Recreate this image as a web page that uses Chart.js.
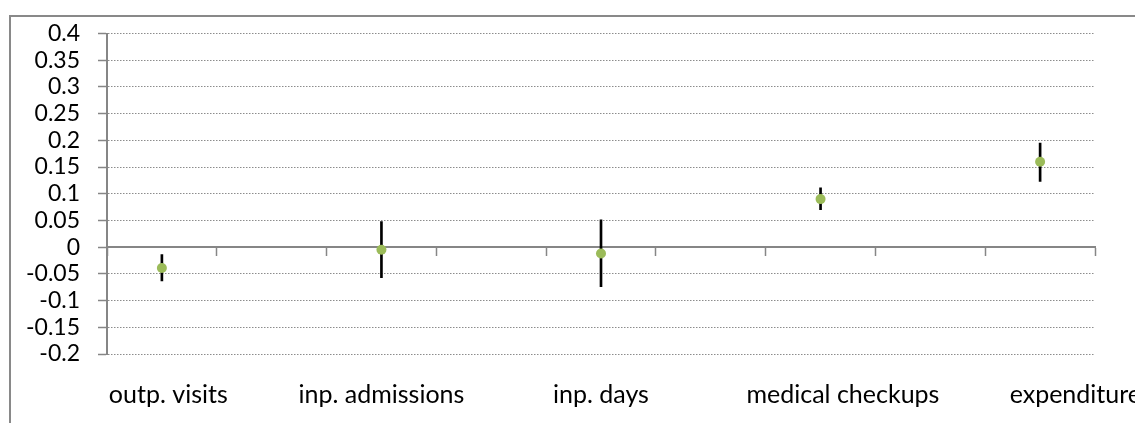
<!DOCTYPE html>
<html>
<head>
<meta charset="utf-8">
<script src="https://cdn.jsdelivr.net/npm/chart.js@4/dist/chart.umd.min.js"></script>
<style>
  html, body { margin: 0; padding: 0; background: #fff; overflow: hidden; }
  #wrap { position: relative; width: 1135px; height: 423px; overflow: hidden; }
  #frame { position: absolute; left: 9px; top: 15px; width: 2000px; height: 2000px;
           border: 2px solid #898989; box-sizing: border-box; }
  #c { position: absolute; left: 0; top: 0; }
</style>
</head>
<body>
<div id="wrap">
  <div id="frame"></div>
  <canvas id="c" width="1135" height="423"></canvas>
</div>
<script>
// Outcomes, point estimates and 95% confidence bounds
const outcomes = ['outp. visits', 'inp. admissions', 'inp. days', 'medical checkups', 'expenditure'];
const estimate = [-0.039, -0.005, -0.012, 0.090, 0.160];
const ciLower  = [-0.063, -0.057, -0.074, 0.070, 0.123];
const ciUpper  = [-0.014, 0.048, 0.051, 0.111, 0.195];

// Value axis range
const yMin = -0.2;
const yMax = 0.4;
const yStep = 0.05;

// Leading spaces in front of each outcome label (label placement)
const labelIndent = [2, 0, 0, 7, 11];

// Each outcome is followed by an empty slot on the category axis
const labels = [];
const pointData = [];
const rangeData = [];
outcomes.forEach((name, i) => {
  if (i > 0) { labels.push(''); pointData.push(null); rangeData.push(null); }
  labels.push(' '.repeat(labelIndent[i]) + name);
  pointData.push(estimate[i]);
  rangeData.push([ciLower[i], ciUpper[i]]);
});

const axisGrey = '#868686';
const FONT = 'Lato, "DejaVu Sans", sans-serif';

new Chart(document.getElementById('c'), {
  type: 'bar',
  data: {
    labels: labels,
    datasets: [
      {
        type: 'line',
        label: 'estimate',
        data: pointData,
        showLine: false,
        pointRadius: 5,
        pointHoverRadius: 5,
        pointBorderWidth: 0,
        pointBackgroundColor: '#9BBB59',
        borderColor: '#9BBB59',
        order: 0
      },
      {
        type: 'bar',
        label: '95% CI',
        data: rangeData,
        backgroundColor: '#000000',
        barThickness: 2,
        grouped: false,
        order: 1
      }
    ]
  },
  options: {
    responsive: false,
    animation: false,
    events: [],
    layout: { padding: { left: 0, top: 33.5, right: 40, bottom: 0 } },
    plugins: { legend: { display: false }, tooltip: { enabled: false } },
    scales: {
      x: {
        type: 'category',
        position: 'bottom',
        offset: true,
        grid: { display: false, drawTicks: false },
        border: { display: false },
        ticks: {
          autoSkip: false,
          maxRotation: 0,
          minRotation: 0,
          padding: 26,
          color: '#000',
          font: { family: FONT, size: 25 }
        },
        // the last label may run past the plot edge
        afterFit: s => { s.height = 69; s.paddingLeft = 0; s.paddingRight = 0; }
      },
      x2: {
        type: 'category',
        position: { y: 0 },
        offset: true,
        grid: {
          offset: true,
          drawOnChartArea: false,
          drawTicks: true,
          tickLength: 8,
          tickColor: axisGrey,
          tickWidth: 1.5
        },
        border: { display: true, color: axisGrey, width: 2 },
        ticks: { display: false }
      },
      y: {
        type: 'linear',
        min: yMin,
        max: yMax,
        grid: {
          color: c => (Math.abs(c.tick.value) < 1e-9 ? 'rgba(0,0,0,0)' : '#8c8c8c'),
          lineWidth: 1,
          drawTicks: true,
          tickLength: 9,
          tickColor: axisGrey,
          tickWidth: 1.5
        },
        border: { display: true, color: axisGrey, width: 2, dash: [1.5, 1.5] },
        ticks: {
          stepSize: yStep,
          autoSkip: false,
          padding: 18,
          color: '#000',
          font: { family: FONT, size: 23 },
          callback: v => String(+Number(v).toFixed(2))
        },
        afterFit: s => { s.width = 107; s.paddingTop = 0; s.paddingBottom = 0; }
      }
    }
  }
});
</script>
</body>
</html>
